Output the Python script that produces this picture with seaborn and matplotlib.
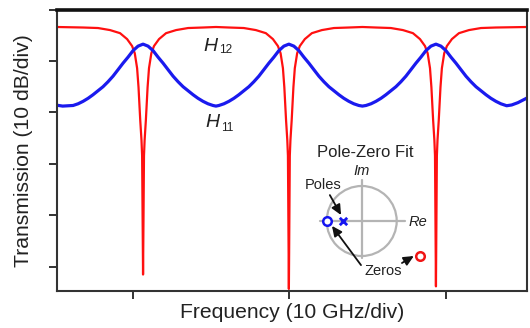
import matplotlib
matplotlib.use("Agg")
import matplotlib.pyplot as plt
import seaborn as sns
import pandas as pd

# ---------------- data ----------------
# H12 (red) : frequency in GHz, transmission in dB
h12_freq = [5.14, 6.81, 7.76, 8.53, 9.17, 9.62, 9.94, 10.11, 10.26, 10.35, 10.46, 10.54, 10.58, 10.64,
            10.70, 10.74, 10.82, 10.93, 11.02, 11.17, 11.34, 11.66, 12.11, 12.75, 13.52, 14.47, 15.30,
            16.13, 17.08, 17.85, 18.49, 18.94, 19.26, 19.43, 19.58, 19.67, 19.78, 19.86, 19.90, 19.96,
            20.02, 20.06, 20.14, 20.25, 20.34, 20.49, 20.66, 20.98, 21.43, 22.07, 22.84, 23.79, 24.66,
            25.53, 26.48, 27.25, 27.89, 28.34, 28.66, 28.83, 28.98, 29.07, 29.18, 29.26, 29.30, 29.36,
            29.42, 29.46, 29.54, 29.65, 29.74, 29.89, 30.06, 30.38, 30.83, 31.47, 32.24, 33.19, 35.18]
h12_db = [-3.4, -3.5, -3.6, -4.0, -4.6, -5.75, -7.1, -8.5, -11.4, -15.1, -21.5, -25.4, -28.4, -51.5,
          -28.4, -25.4, -21.5, -15.1, -11.4, -8.5, -7.1, -5.75, -4.6, -4.0, -3.6, -3.5, -3.4,
          -3.5, -3.6, -4.0, -4.6, -5.75, -7.1, -8.5, -11.4, -15.1, -21.5, -25.4, -28.4, -54.3,
          -28.4, -25.4, -21.5, -15.1, -11.4, -8.5, -7.1, -5.75, -4.6, -4.0, -3.6, -3.5, -3.4,
          -3.5, -3.6, -4.0, -4.6, -5.75, -7.1, -8.5, -11.4, -15.1, -21.5, -25.4, -28.4, -53.8,
          -28.4, -25.4, -21.5, -15.1, -11.4, -8.5, -7.1, -5.75, -4.6, -4.0, -3.6, -3.5, -3.4]

# H11 (blue)
h11_freq = [5.14, 5.50, 6.17, 6.49, 6.81, 7.13, 7.44, 7.76, 8.08, 8.40, 8.72, 9.04, 9.36, 9.68, 10.00, 10.32, 10.64,
            10.96, 11.28, 11.60, 11.92, 12.24, 12.56, 12.88, 13.20, 13.52, 13.84, 14.15, 14.47, 14.79, 15.11, 15.30,
            15.49, 15.81, 16.13, 16.45, 16.76, 17.08, 17.40, 17.72, 18.04, 18.36, 18.68, 19.00, 19.32, 19.64, 19.96,
            20.28, 20.60, 20.92, 21.24, 21.56, 21.88, 22.20, 22.52, 22.84, 23.16, 23.47, 23.79, 24.11, 24.43, 24.66,
            24.89, 25.21, 25.53, 25.85, 26.16, 26.48, 26.80, 27.12, 27.44, 27.76, 28.08, 28.40, 28.72, 29.04, 29.36,
            29.68, 30.00, 30.32, 30.64, 30.96, 31.28, 31.60, 31.92, 32.24, 32.56, 32.87, 33.19, 33.51, 33.88,
            34.20, 34.60, 35.18]
h11_db = [-18.60, -18.77, -18.65, -18.32, -17.84, -17.25, -16.57, -15.79, -15.01, -14.04, -12.96, -11.70, -10.43, -9.26, -7.99, -7.12, -6.73,
          -7.12, -7.99, -9.26, -10.43, -11.70, -12.96, -14.04, -15.01, -15.79, -16.57, -17.25, -17.84, -18.32, -18.65, -18.77,
          -18.65, -18.32, -17.84, -17.25, -16.57, -15.79, -15.01, -14.04, -12.96, -11.70, -10.43, -9.26, -7.99, -7.12, -6.73,
          -7.12, -7.99, -9.26, -10.43, -11.70, -12.96, -14.04, -15.01, -15.79, -16.57, -17.25, -17.84, -18.32, -18.65, -18.77,
          -18.65, -18.32, -17.84, -17.25, -16.57, -15.79, -15.01, -14.04, -12.96, -11.70, -10.43, -9.26, -7.99, -7.12, -6.73,
          -7.12, -7.99, -9.26, -10.43, -11.70, -12.96, -14.04, -15.01, -15.79, -16.57, -17.25, -17.84, -18.32, -18.70,
          -18.55, -18.10, -17.20]

x_ticks = [10, 20, 30]
y_ticks = [0, -10, -20, -30, -40, -50]

# pole-zero inset (unit circle coordinates)
pole_re = [-0.53]
pole_im = [0.0]
zero_re = [-1.0, 1.67]
zero_im = [0.0, -1.0]
zero_colors = ["#1515f0", "#f01515"]

RED = "#ff1010"
BLUE = "#1a1aee"
TXT = "#222222"

# ---------------- style ----------------
sns.set_style("ticks")
plt.rcParams["font.family"] = ["Liberation Sans", "DejaVu Sans"]

W, H = 530, 328
fig = plt.figure(figsize=(W / 100, H / 100), dpi=100)
fig.patch.set_facecolor("white")

L, R, T, B = 57, 527, 9.5, 291
ax = fig.add_axes([L / W, 1 - B / H, (R - L) / W, (B - T) / H])

df12 = pd.DataFrame({"f": h12_freq, "db": h12_db})
df11 = pd.DataFrame({"f": h11_freq, "db": h11_db})
sns.lineplot(data=df12, x="f", y="db", ax=ax, color=RED, lw=1.6, sort=False, estimator=None)
sns.lineplot(data=df11, x="f", y="db", ax=ax, color=BLUE, lw=2.3, sort=False, estimator=None)

ax.set_xlim(5.14, 35.18)
ax.set_ylim(-54.7, 0)
ax.set_xticks(x_ticks)
ax.set_yticks(y_ticks)
ax.set_xticklabels([])
ax.set_yticklabels([])
ax.tick_params(direction="out", length=6, width=1.4, color="#333333")
for side in ["left", "bottom", "right"]:
    ax.spines[side].set_linewidth(1.5)
    ax.spines[side].set_color("#333333")
ax.spines["top"].set_linewidth(2.6)
ax.spines["top"].set_color("#111111")

ax.set_xlabel("Frequency (10 GHz/div)", fontsize=15.2, color=TXT, labelpad=-0.5)
ax.set_ylabel("Transmission (10 dB/div)", fontsize=15.2, color=TXT, labelpad=8)

# curve labels: italic H with small subscript
for name, sub, fx, fy, dy in [("H", "12", 14.47, -8.1, -2), ("H", "11", 14.60, -22.9, -4)]:
    ax.text(fx, fy, name, fontsize=14, color=TXT, style="italic", ha="left", va="baseline")
    ax.annotate(sub, xy=(fx, fy), xytext=(16, dy), textcoords="offset pixels",
                fontsize=8.5, color=TXT, ha="left", va="baseline")

# ---------------- inset pole-zero diagram ----------------
cx, cy, rad = 361.7, 221.0, 35.0
il, ir, it, ib = 300, 440, 140, 285
iax = fig.add_axes([il / W, 1 - ib / H, (ir - il) / W, (ib - it) / H])
iax.set_xlim((il - cx) / rad, (ir - cx) / rad)
iax.set_ylim((cy - ib) / rad, (cy - it) / rad)
iax.axis("off")
iax.patch.set_alpha(0)

circ = plt.Circle((0, 0), 1.0, fill=False, color="#b4b4b4", lw=1.6)
iax.add_patch(circ)
iax.plot([-1.19, 1.24], [0, 0], color="#b4b4b4", lw=1.6)
iax.plot([0, 0], [-1.06, 1.18], color="#b4b4b4", lw=1.6)

sns.scatterplot(x=pole_re, y=pole_im, ax=iax, marker="x", color="#1515f0", s=28, linewidth=2.0, zorder=5)
for zr, zi, zc in zip(zero_re, zero_im, zero_colors):
    iax.scatter([zr], [zi], s=38, facecolors="white", edgecolors=zc, linewidths=1.8, zorder=5)

iax.text(0.09, 1.95, "Pole-Zero Fit", fontsize=12, color=TXT, ha="center", va="center")
iax.text(0.0, 1.44, "Im", fontsize=10.5, color=TXT, style="italic", ha="center", va="center")
iax.text(1.61, -0.04, "Re", fontsize=10.5, color=TXT, style="italic", ha="center", va="center")
iax.text(-1.11, 1.03, "Poles", fontsize=10.5, color=TXT, ha="center", va="center")
iax.text(0.61, -1.42, "Zeros", fontsize=10.5, color=TXT, ha="center", va="center")

aprops = dict(arrowstyle="-|>,head_length=0.6,head_width=0.28", color="#111111", lw=1.3, shrinkA=0, shrinkB=0)
iax.annotate("", xy=(-0.59, 0.17), xytext=(-0.91, 0.74), arrowprops=aprops)
iax.annotate("", xy=(-0.85, -0.14), xytext=(-0.02, -1.26), arrowprops=aprops)
iax.annotate("", xy=(1.49, -1.0), xytext=(1.15, -1.2), arrowprops=aprops)

fig.savefig("out.png", dpi=100, facecolor="white")
